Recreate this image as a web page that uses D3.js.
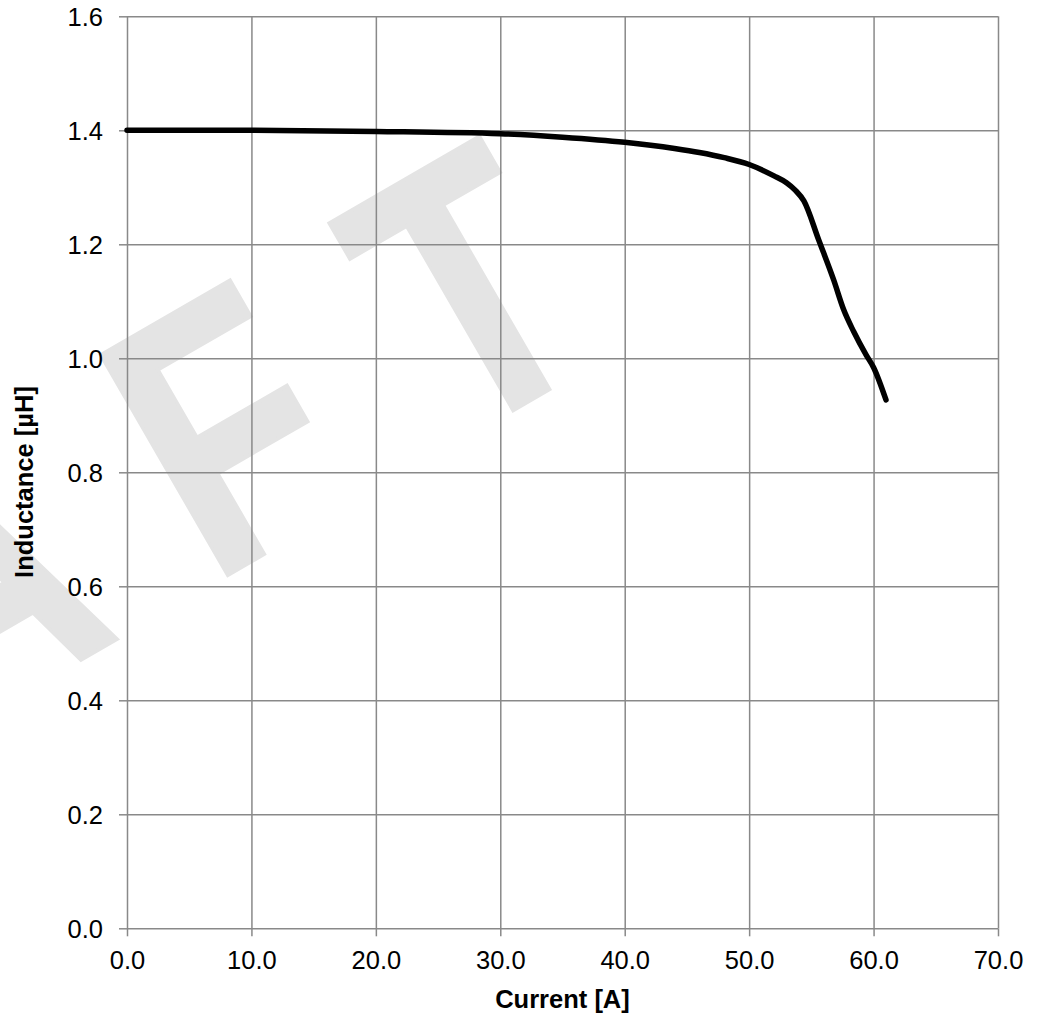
<!DOCTYPE html>
<html>
<head>
<meta charset="utf-8">
<script src="https://cdn.jsdelivr.net/npm/d3@7"></script>
<style>
	body { margin: 0; background: #fff; }
	text { font-family: Arial, "Liberation Sans", sans-serif; }
</style>
</head>
<body>
<div id="chart"></div>
<script>
// values
var currentA = [0, 10, 20, 30, 35, 40, 44, 46, 48, 50, 52, 53, 53.7, 54.4, 55.6, 56.8, 57.6, 58.4, 59.4, 60, 61];
var inductanceUH = [1.400, 1.400, 1.398, 1.394, 1.388, 1.379, 1.368, 1.361, 1.352, 1.340, 1.320, 1.308, 1.295, 1.276, 1.207, 1.137, 1.085, 1.047, 1.006, 0.984, 0.927];
var xTicks = [0, 10, 20, 30, 40, 50, 60, 70];
var yTicks = [0, 0.2, 0.4, 0.6, 0.8, 1.0, 1.2, 1.4, 1.6];
var xTitle = "Current [A]";
var yTitle = "Inductance [µH]";
var watermark = "DRAFT";

var width = 1051, height = 1017;
var margin = {left: 127, right: 53, top: 16.3, bottom: 88.7};

var points = currentA.map(function(c, i) { return {x: c, y: inductanceUH[i]}; });

var svg = d3.select("#chart").append("svg")
	.attr("width", width)
	.attr("height", height);

var x = d3.scaleLinear().domain([0, 70]).range([margin.left, width - margin.right]);
var y = d3.scaleLinear().domain([0, 1.6]).range([height - margin.bottom, margin.top]);

//watermark behind everything (letters are tall and narrow, wide spacing)
svg.append("g")
	.attr("transform", "translate(231.7,575) rotate(-30) scale(0.8,1)")
	.append("text")
		.text(watermark)
		.attr("x", -1203.7)
		.attr("y", -2)
		.attr("font-size", "369px")
		.attr("font-weight", "bold")
		.attr("letter-spacing", "125px")
		.attr("fill", "#e4e4e4")
		.attr("stroke", "#e4e4e4")
		.attr("stroke-width", 4)
		.attr("stroke-linejoin", "miter");

//grid + ticks
var gridColor = "#898989";

svg.append("g")
	.attr("transform", "translate(0," + y(0) + ")")
	.call(d3.axisBottom(x)
		.tickValues(xTicks)
		.tickSize(-(y(0) - y(1.6)))
		.tickFormat(""))
	.call(function(g) {
		g.select(".domain").remove();
		g.selectAll(".tick line").attr("stroke", gridColor).attr("stroke-width", 1.5);
	});

svg.append("g")
	.attr("transform", "translate(" + x(0) + ",0)")
	.call(d3.axisLeft(y)
		.tickValues(yTicks)
		.tickSize(-(x(70) - x(0)))
		.tickFormat(""))
	.call(function(g) {
		g.select(".domain").remove();
		g.selectAll(".tick line").attr("stroke", gridColor).attr("stroke-width", 1.5);
	});

//outer tick marks
svg.append("g")
	.attr("transform", "translate(0," + y(0) + ")")
	.call(d3.axisBottom(x).tickValues(xTicks).tickSize(8).tickPadding(15)
		.tickFormat(d3.format(".1f")))
	.call(function(g) {
		g.select(".domain").remove();
		g.selectAll(".tick line").attr("stroke", gridColor).attr("stroke-width", 1.5);
		g.selectAll(".tick text")
			.attr("font-size", "25.5px")
			.attr("font-family", "Arial, 'Liberation Sans', sans-serif")
			.attr("fill", "#000")
			.attr("dy", "0.71em");
	});

svg.append("g")
	.attr("transform", "translate(" + x(0) + ",0)")
	.call(d3.axisLeft(y).tickValues(yTicks).tickSize(8).tickPadding(16)
		.tickFormat(d3.format(".1f")))
	.call(function(g) {
		g.select(".domain").remove();
		g.selectAll(".tick line").attr("stroke", gridColor).attr("stroke-width", 1.5);
		g.selectAll(".tick text")
			.attr("font-size", "25.5px")
			.attr("font-family", "Arial, 'Liberation Sans', sans-serif")
			.attr("fill", "#000")
			.attr("dy", "0.36em");
	});

//the curve
var line = d3.line()
	.x(function(d) { return x(d.x); })
	.y(function(d) { return y(d.y); })
	.curve(d3.curveMonotoneX);

svg.append("path")
	.datum(points)
	.attr("d", line)
	.attr("fill", "none")
	.attr("stroke", "#000")
	.attr("stroke-width", 5.5)
	.attr("stroke-linecap", "round")
	.attr("stroke-linejoin", "round");

//axis titles
svg.append("text")
	.text(xTitle)
	.attr("x", (x(0) + x(70)) / 2)
	.attr("y", 1008)
	.attr("text-anchor", "middle")
	.attr("font-size", "25.5px")
	.attr("font-weight", "bold");

svg.append("text")
	.text(yTitle)
	.attr("text-anchor", "middle")
	.attr("font-size", "25.5px")
	.attr("font-weight", "bold")
	.attr("transform", "translate(33.3,482) rotate(-90)");
</script>
</body>
</html>
